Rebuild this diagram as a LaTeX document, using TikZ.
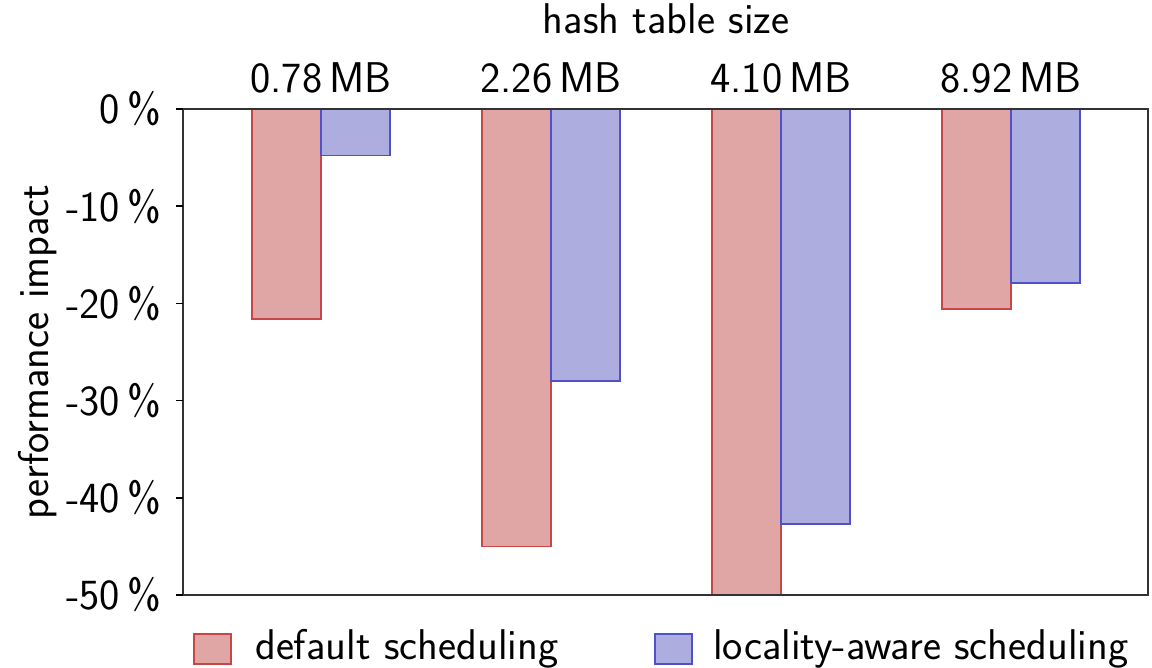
\documentclass[tikz,border=0pt]{standalone}
\usepackage{fontspec}
\setsansfont{lmsans17-regular}[Extension=.otf]
\renewcommand{\familydefault}{\sfdefault}
\begin{document}
\begin{tikzpicture}[x=1pt,y=-1pt,
  lbl/.style={font=\fontsize{43}{48}\selectfont, inner sep=0pt},
  defbar/.style={fill={rgb,255:red,224;green,166;blue,166}, draw={rgb,255:red,200;green,70;blue,70}, line width=1.6pt},
  locbar/.style={fill={rgb,255:red,173;green,173;blue,224}, draw={rgb,255:red,80;green,80;blue,200}, line width=1.6pt},
  frame/.style={draw={rgb,255:red,50;green,50;blue,50}, line width=1.6pt}]
\useasboundingbox (0,0) rectangle (1152,668);
% y position of a percentage value
\def\yz{109}\def\ys{9.72}
% bars: default (red) and locality-aware (blue) per hash table size
\foreach \c/\d/\l in {321/21.6/4.8, 551/45.0/28.0, 781/50.0/42.7, 1011/20.6/17.9}{
  \draw[defbar] (\c-69,\yz) rectangle (\c,\yz+\ys*\d);
  \draw[locbar] (\c,\yz) rectangle (\c+69,\yz+\ys*\l);
}
% plot frame
\draw[frame] (183,109) rectangle (1148,595);
% y ticks and labels
\foreach \v in {0,10,20,30,40,50}{
  \draw[line width=1.6pt] (176,\yz+\ys*\v) -- (183,\yz+\ys*\v);
}
\node[lbl, anchor=east] (t0) at (161,\yz) {0\,\%};
\node[lbl, anchor=east] (t1) at (161,\yz+\ys*10) {-10\,\%};
\node[lbl, anchor=east] (t2) at (161,\yz+\ys*20) {-20\,\%};
\node[lbl, anchor=east] (t3) at (161,\yz+\ys*30) {-30\,\%};
\node[lbl, anchor=east] (t4) at (161,\yz+\ys*40) {-40\,\%};
\node[lbl, anchor=east] (t5) at (161,\yz+\ys*50) {-50\,\%};
\node[lbl, rotate=90] (ylab) at (38,352) {performance impact};
% group labels
\node[lbl, anchor=base] (g1) at (321,93) {0.78\,MB};
\node[lbl, anchor=base] (g2) at (551,93) {2.26\,MB};
\node[lbl, anchor=base] (g3) at (781,93) {4.10\,MB};
\node[lbl, anchor=base] (g4) at (1011,93) {8.92\,MB};
\node[lbl, anchor=base] (xlab) at (666,34) {hash table size};
% legend
\draw[defbar] (194,634) rectangle (231,664);
\node[lbl, anchor=base west] (leg1) at (255,659) {default scheduling};
\draw[locbar] (655,634) rectangle (692,664);
\node[lbl, anchor=base west] (leg2) at (713,659) {locality-aware scheduling};
\end{tikzpicture}
\end{document}
